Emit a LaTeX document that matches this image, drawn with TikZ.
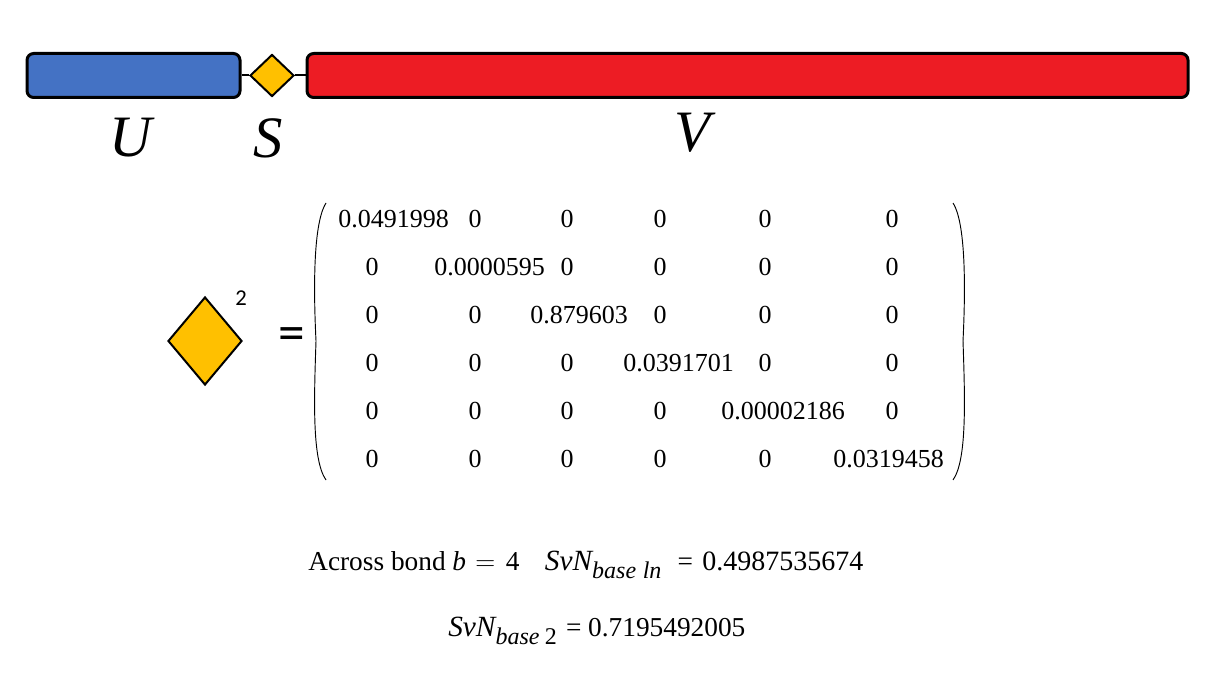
\documentclass[tikz,border=0pt]{standalone}
\usepackage{fontspec}
\setmainfont{Liberation Serif}
\newfontfamily\calib{Carlito}
\usetikzlibrary{shapes.geometric}
\definecolor{ublue}{HTML}{4472C4}
\definecolor{vred}{HTML}{ED1C24}
\definecolor{sgold}{HTML}{FFC000}
\newcommand{\lowsub}[1]{\raisebox{-0.3em}{\fontsize{18}{18}\selectfont\itshape #1}}
\newcommand{\svn}{{\fontsize{22}{22}\selectfont\itshape SvN}}
\tikzset{
  bar/.style={draw=black, line width=2.25pt, rounded corners=5pt, minimum height=33pt, inner sep=0pt},
  gem/.style={diamond, draw=black, fill=sgold, inner sep=0pt},
  big/.style={font=\fontsize{44}{44}\selectfont\itshape, inner sep=0pt},
  ent/.style={font=\fontsize{19.5}{20}\selectfont, inner sep=0pt},
  txt/.style={font=\fontsize{20.5}{22}\selectfont, inner sep=0pt},
}
\begin{document}
\begin{tikzpicture}[x=0.75pt,y=-0.75pt]
\useasboundingbox (0,0) rectangle (1219,691);
% top bar
\node[bar, fill=ublue, minimum width=159.75pt] (U) at (133.5,75.5) {};
\node[bar, fill=vred, minimum width=660.75pt] (V) at (747.5,75.5) {};
\node[gem, line width=1.5pt, minimum width=33pt, minimum height=31.5pt] (S) at (272,75.5) {};
\draw[line width=1.5pt] (U.east) -- (S.west);
\draw[line width=1.5pt] (S.east) -- (V.west);
\node[big] (Ul) at (131,138) {U};
\node[big] (Sl) at (268,138) {S};
\node[big] (Vl) at (692,133) {V};
% left side
\node[gem, line width=1.5pt, minimum width=55.5pt, minimum height=66pt] (D) at (205,341) {};
\node[font=\calib\fontsize{17}{17}\selectfont, inner sep=0pt] (two) at (241,298) {2};
\node[font=\calib\fontsize{40}{40}\selectfont, inner sep=0pt] (eq) at (292,339) {=};
% parentheses
\coordinate (lt) at (326,203); \coordinate (lb) at (326,480);
\coordinate (rt) at (953,203); \coordinate (rb) at (953,480);
\draw[line width=0.7pt] (lt) .. controls (312,225) and (314,300) .. (316,341) .. controls (314,400) and (312,460) .. (lb);
\draw[line width=0.7pt] (rt) .. controls (967,225) and (965,300) .. (963,341) .. controls (965,400) and (967,460) .. (rb);
% matrix entries
\node[ent, anchor=west] (m11) at (338,219) {0.0491998};
\node[ent] (m12) at (475,219) {0};
\node[ent] (m13) at (567,219) {0};
\node[ent] (m14) at (660,219) {0};
\node[ent] (m15) at (765,219) {0};
\node[ent] (m16) at (892,219) {0};
\node[ent] (m21) at (372,267) {0};
\node[ent, anchor=west] (m22) at (434,267) {0.0000595};
\node[ent] (m23) at (567,267) {0};
\node[ent] (m24) at (660,267) {0};
\node[ent] (m25) at (765,267) {0};
\node[ent] (m26) at (892,267) {0};
\node[ent] (m31) at (372,315) {0};
\node[ent] (m32) at (475,315) {0};
\node[ent, anchor=west] (m33) at (530,315) {0.879603};
\node[ent] (m34) at (660,315) {0};
\node[ent] (m35) at (765,315) {0};
\node[ent] (m36) at (892,315) {0};
\node[ent] (m41) at (372,363) {0};
\node[ent] (m42) at (475,363) {0};
\node[ent] (m43) at (567,363) {0};
\node[ent, anchor=west] (m44) at (623,363) {0.0391701};
\node[ent] (m45) at (765,363) {0};
\node[ent] (m46) at (892,363) {0};
\node[ent] (m51) at (372,411) {0};
\node[ent] (m52) at (475,411) {0};
\node[ent] (m53) at (567,411) {0};
\node[ent] (m54) at (660,411) {0};
\node[ent, anchor=west] (m55) at (721,411) {0.00002186};
\node[ent] (m56) at (892,411) {0};
\node[ent] (m61) at (372,459) {0};
\node[ent] (m62) at (475,459) {0};
\node[ent] (m63) at (567,459) {0};
\node[ent] (m64) at (660,459) {0};
\node[ent] (m65) at (765,459) {0};
\node[ent, anchor=west] (m66) at (833,459) {0.0319458};
% bottom text
\node[txt, anchor=west] (t1) at (308,565) {Across bond\hspace{5pt}\textit{b}\hspace{7pt}$=$\hspace{8pt}4\hspace{19pt}\svn\lowsub{base\hspace{5pt}ln}\hspace{12pt}=\hspace{7pt}{\fontsize{21}{22}\selectfont 0.4987535674}};
\node[txt, anchor=west] (t2) at (448,631) {\svn\lowsub{base\hspace{4pt}\upshape 2}\hspace{7pt}=\hspace{5pt}0.7195492005};
\end{tikzpicture}
\end{document}
